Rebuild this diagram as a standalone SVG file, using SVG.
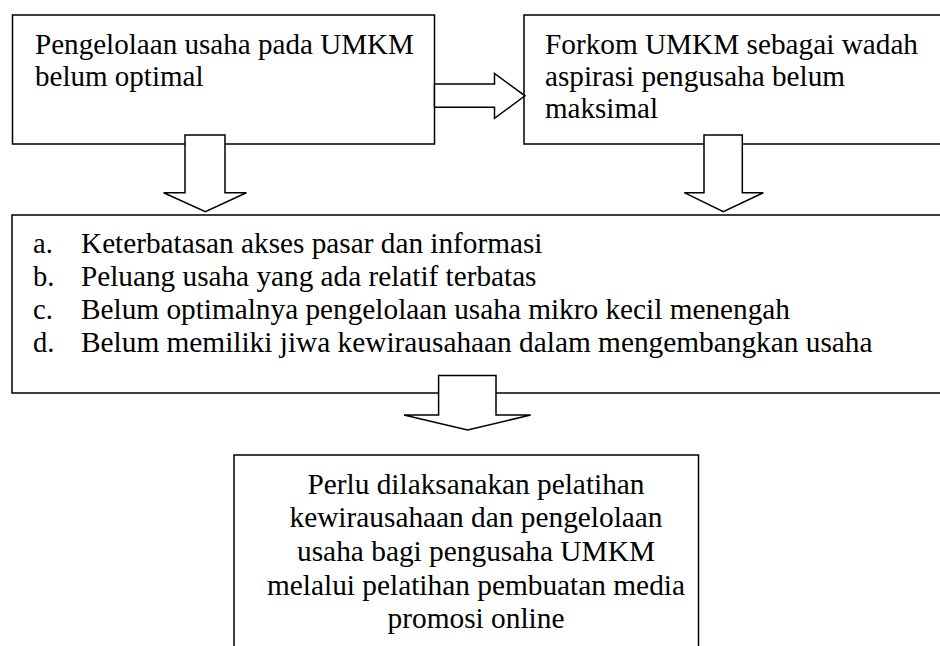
<svg xmlns="http://www.w3.org/2000/svg" width="940" height="646" viewBox="0 0 940 646">
<style>
.box{fill:#fff;stroke:#000;stroke-width:1.5}
.arr{fill:#fff;stroke:#000;stroke-width:1.5;stroke-linejoin:miter}
</style>
<rect width="940" height="646" fill="#fff"/>
<g id="node-pengelolaan" font-family="Liberation Serif" font-size="28.5">
<rect class="box" x="12.5" y="15" width="422" height="129"/>
<text x="35" y="53.5" textLength="379" lengthAdjust="spacingAndGlyphs">Pengelolaan usaha pada UMKM</text>
<text x="35" y="86" textLength="168.5" lengthAdjust="spacingAndGlyphs">belum optimal</text>
</g>
<g id="node-forkom" font-family="Liberation Serif" font-size="28.5">
<rect class="box" x="524" y="15" width="430" height="129"/>
<text x="545" y="54" textLength="373" lengthAdjust="spacingAndGlyphs">Forkom UMKM sebagai wadah</text>
<text x="545" y="86" textLength="300" lengthAdjust="spacingAndGlyphs">aspirasi pengusaha belum</text>
<text x="545" y="117.5" textLength="113" lengthAdjust="spacingAndGlyphs">maksimal</text>
</g>
<g id="node-masalah" font-family="Liberation Serif" font-size="28.5">
<rect class="box" x="12" y="215" width="942" height="178"/>
<text x="33" y="252.5">a.</text>
<text x="81" y="252.5" textLength="461.5" lengthAdjust="spacingAndGlyphs">Keterbatasan akses pasar dan informasi</text>
<text x="33" y="285.5">b.</text>
<text x="81" y="285.5" textLength="455.5" lengthAdjust="spacingAndGlyphs">Peluang usaha yang ada relatif terbatas</text>
<text x="33" y="318.5">c.</text>
<text x="81" y="318.5" textLength="709" lengthAdjust="spacingAndGlyphs">Belum optimalnya pengelolaan usaha mikro kecil menengah</text>
<text x="33" y="352">d.</text>
<text x="81" y="352" textLength="791.5" lengthAdjust="spacingAndGlyphs">Belum memiliki jiwa kewirausahaan dalam mengembangkan usaha</text>
</g>
<g id="node-solusi" font-family="Liberation Serif" font-size="28.5" text-anchor="middle">
<rect class="box" x="234" y="455" width="464.5" height="210"/>
<text x="476" y="493.5" textLength="337" lengthAdjust="spacingAndGlyphs">Perlu dilaksanakan pelatihan</text>
<text x="476" y="527" textLength="373" lengthAdjust="spacingAndGlyphs">kewirausahaan dan pengelolaan</text>
<text x="476" y="560.5" textLength="358" lengthAdjust="spacingAndGlyphs">usaha bagi pengusaha UMKM</text>
<text x="476" y="594.5" textLength="418" lengthAdjust="spacingAndGlyphs">melalui pelatihan pembuatan media</text>
<text x="476" y="628" textLength="177" lengthAdjust="spacingAndGlyphs">promosi online</text>
</g>
<g id="connectors">
<polygon class="arr" points="434.5,84 494.5,84 494.5,73.5 525,95.8 494.5,118.3 494.5,107.3 434.5,107.3"/>
<polygon class="arr" points="185,135 225,135 225,192.7 246.4,192.7 205.4,211.7 163.6,192.7 185,192.7"/>
<polygon class="arr" points="704,135 742.3,135 742.3,192.7 763.3,192.7 723.3,211.7 684.3,192.7 704,192.7"/>
<polygon class="arr" points="438.6,375.5 496,375.5 496,415 530.7,415 467.5,430 404,415 438.6,415"/>
</g>
</svg>
